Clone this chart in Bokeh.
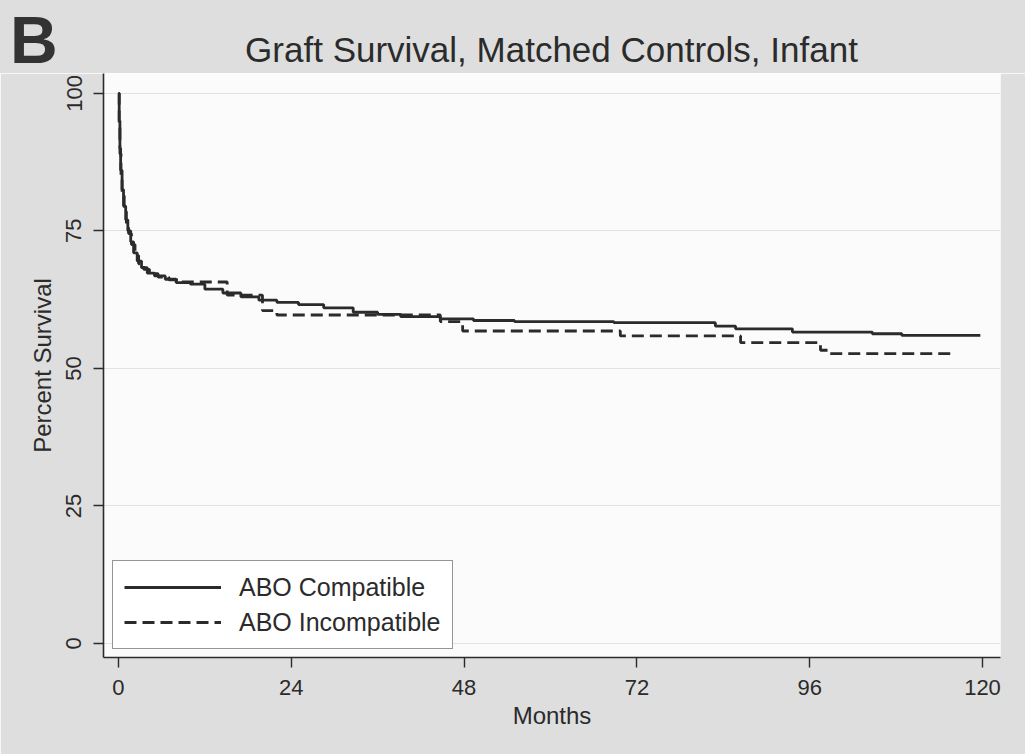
from bokeh.plotting import figure
from bokeh.layouts import column
from bokeh.models import Range1d, Legend, LegendItem, FixedTicker, Div
from bokeh.embed import file_html
from bokeh.resources import INLINE

# Kaplan-Meier graft survival estimates (percent) by months since transplant
compat_months = [0, 0.1, 0.2, 0.3, 0.5, 0.7, 1.0, 1.3, 1.7, 2.1, 2.6, 3.2, 4.0, 5.0,
                 6.5, 8.0, 10.0, 12.0, 14.5, 17.0, 19.5, 22.0, 25.0, 28.5, 32.6,
                 36.0, 39.2, 44.7, 49.3, 55.0, 68.8, 82.9, 85.7, 93.6, 104.7, 108.8,
                 119.7]
compat_surv = [100, 95, 90, 86, 82.5, 79.5, 77, 75, 73, 71, 69.5, 68.3, 67.3, 66.8,
               66.2, 65.6, 65.3, 64.4, 63.7, 63.0, 62.4, 62.0, 61.6, 61.0, 60.2,
               59.8, 59.4, 59.0, 58.7, 58.5, 58.3, 57.7, 57.2, 56.6, 56.3, 56.0,
               56.0]

incompat_months = [0, 0.1, 0.2, 0.35, 0.5, 0.8, 1.1, 1.4, 1.8, 2.3, 2.8, 3.5, 4.3,
                   5.5, 7.0, 8.5, 15.1, 20.0, 22.0, 44.7, 47.8, 69.7, 86.4, 97.5,
                   98.6, 115.6]
incompat_surv = [100, 94, 89, 85, 81.5, 78.5, 76, 74.5, 72.5, 70.5, 69, 68, 67.2,
                 66.6, 66.1, 65.7, 63.3, 60.5, 59.7, 58.5, 56.8, 55.9, 54.7, 53.3,
                 52.7, 52.7]

x_ticks = [0, 24, 48, 72, 96, 120]
y_ticks = [0, 25, 50, 75, 100]

series_names = ["ABO Compatible", "ABO Incompatible"]
title_text = "Graft Survival, Matched Controls, Infant"
panel_letter = "B"

FONT = "Liberation Sans"
INK = "#2b2b2b"
PAGE_BG = "#dedede"

# header strip with the panel letter and the chart title
header_html = (
    f'<div style="position:relative;width:1025px;height:73px;background:{PAGE_BG};'
    f'font-family:\'{FONT}\';color:{INK};">'
    f'<span style="position:absolute;left:10px;top:7px;font-size:66px;line-height:66px;'
    f'font-weight:bold;color:#333333;">{panel_letter}</span>'
    f'<span style="position:absolute;left:103px;width:897px;top:32px;font-size:35px;'
    f'line-height:35px;text-align:center;white-space:nowrap;">{title_text}</span>'
    f'</div>'
)
header = Div(text=header_html, width=1025, height=73, margin=0)

p = figure(width=1025, height=681, output_backend="svg", toolbar_location=None,
           x_range=Range1d(-2.08, 122.5), y_range=Range1d(-2.55, 103.6),
           min_border_left=103, min_border_right=25, min_border_top=0,
           min_border_bottom=97, margin=0)

p.border_fill_color = PAGE_BG
p.background_fill_color = "#fbfbfb"
p.outline_line_color = None

# survival curves
r1 = p.step(compat_months, compat_surv, mode="after", line_color=INK, line_width=2.8)
r2 = p.step(incompat_months, incompat_surv, mode="after", line_color=INK,
            line_width=2.8, line_dash="12 6")

# axes
p.xaxis.ticker = FixedTicker(ticks=x_ticks)
p.yaxis.ticker = FixedTicker(ticks=y_ticks)
for ax in (p.xaxis[0], p.yaxis[0]):
    ax.axis_line_color = INK
    ax.axis_line_width = 1.6
    ax.major_tick_line_color = INK
    ax.major_tick_line_width = 1.4
    ax.major_tick_in = 0
    ax.major_tick_out = 10
    ax.minor_tick_line_color = None
    ax.major_label_text_font = FONT
    ax.major_label_text_font_size = "22px"
    ax.major_label_text_color = INK
    ax.axis_label_text_font = FONT
    ax.axis_label_text_font_style = "normal"
    ax.axis_label_text_font_size = "24px"
    ax.axis_label_text_color = INK

p.xaxis.axis_label = "Months"
p.xaxis.major_label_standoff = 12
p.xaxis.axis_label_standoff = 4
p.yaxis.axis_label = "Percent Survival"
p.yaxis.major_label_orientation = "vertical"
p.yaxis.major_label_standoff = 12
p.yaxis.axis_label_standoff = 8

p.xgrid.grid_line_color = None
p.ygrid.grid_line_color = "#e2e2e2"
p.ygrid.grid_line_width = 1

# legend
legend = Legend(items=[LegendItem(label=series_names[0], renderers=[r1]),
                       LegendItem(label=series_names[1], renderers=[r2])],
                location=(9, 8), orientation="vertical")
legend.label_text_font = FONT
legend.label_text_font_size = "25px"
legend.label_text_color = INK
legend.glyph_width = 97
legend.glyph_height = 30
legend.label_height = 30
legend.label_standoff = 18
legend.spacing = 5
legend.padding = 11
legend.margin = 0
legend.border_line_color = INK
legend.border_line_width = 1.6
legend.background_fill_color = "white"
legend.background_fill_alpha = 1.0
p.add_layout(legend, "center")

page = column(header, p, spacing=0, margin=0)

open("out.html", "w").write(file_html(page, INLINE))
